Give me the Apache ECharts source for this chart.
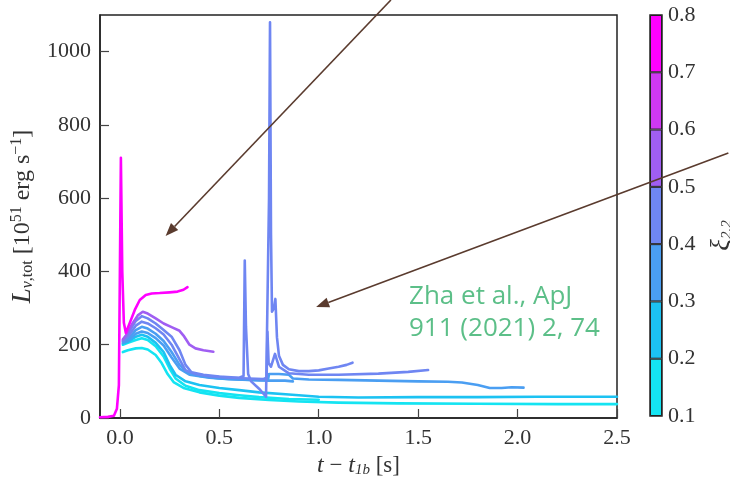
<!DOCTYPE html>
<html>
<head>
<meta charset="utf-8">
<script src="https://cdn.jsdelivr.net/npm/echarts@6.0.0/dist/echarts.min.js"></script>
<style>
html, body { margin: 0; padding: 0; background: #fff; }
#chart { width: 730px; height: 482px; }
</style>
</head>
<body>
<div id="chart"></div>
<script>
// luminosity curves, [t - t1b (s), L (1e51 erg/s)]
const lineA = [[-0.1, 2], [-0.06, 3], [-0.03, 6], [-0.015, 25], [-0.005, 90], [0.0, 400], [0.005, 710], [0.012, 400], [0.02, 260], [0.03, 232], [0.05, 260], [0.075, 295], [0.1, 322], [0.13, 336], [0.16, 340], [0.2, 341], [0.25, 343], [0.29, 345], [0.32, 350], [0.34, 357]]
const lineB = [[0.015, 215], [0.03, 225], [0.06, 255], [0.09, 280], [0.115, 290], [0.14, 285], [0.18, 272], [0.22, 258], [0.26, 248], [0.3, 238], [0.32, 225], [0.35, 200], [0.38, 190], [0.42, 185], [0.47, 181]]
const lineC = [[0.015, 212], [0.04, 230], [0.08, 265], [0.11, 278], [0.14, 272], [0.18, 258], [0.22, 240], [0.26, 222], [0.3, 185], [0.33, 145], [0.36, 125], [0.42, 118], [0.5, 113], [0.6, 110], [0.622, 115], [0.628, 430], [0.634, 250], [0.645, 120], [0.66, 100], [0.7, 80], [0.735, 58], [0.745, 60], [0.75, 600], [0.755, 1080], [0.76, 500], [0.765, 290], [0.775, 300], [0.782, 325], [0.79, 220], [0.8, 170], [0.82, 145], [0.85, 133], [0.9, 128], [0.95, 128], [1.0, 130], [1.05, 135], [1.1, 140], [1.14, 145], [1.17, 151]]
const lineD = [[0.015, 210], [0.04, 222], [0.08, 252], [0.11, 263], [0.14, 258], [0.18, 245], [0.22, 228], [0.26, 200], [0.3, 160], [0.33, 130], [0.38, 120], [0.45, 114], [0.55, 110], [0.65, 108], [0.72, 106], [0.738, 110], [0.742, 235], [0.748, 150], [0.76, 140], [0.78, 175], [0.8, 140], [0.85, 122], [0.95, 118], [1.1, 118], [1.3, 121], [1.45, 126], [1.55, 131]]
const lineE = [[0.015, 208], [0.04, 215], [0.08, 240], [0.11, 249], [0.14, 244], [0.18, 230], [0.22, 210], [0.26, 180], [0.3, 145], [0.34, 125], [0.4, 115], [0.5, 108], [0.6, 105], [0.7, 103], [0.745, 104], [0.75, 120], [0.8, 120], [0.85, 118], [0.87, 108], [0.95, 105], [1.1, 104], [1.3, 102], [1.5, 100], [1.65, 99], [1.72, 97], [1.8, 90], [1.86, 82], [1.92, 82], [1.97, 84], [2.03, 83]]
const lineF = [[0.015, 205], [0.04, 210], [0.08, 230], [0.11, 236], [0.14, 232], [0.18, 218], [0.22, 198], [0.26, 165], [0.3, 135], [0.35, 118], [0.45, 110], [0.55, 106], [0.65, 104], [0.75, 102], [0.83, 102], [0.87, 100]]
const lineG = [[0.015, 203], [0.04, 208], [0.08, 222], [0.11, 227], [0.14, 222], [0.18, 205], [0.22, 180], [0.25, 145], [0.28, 118], [0.33, 100], [0.4, 90], [0.5, 82], [0.6, 76], [0.7, 70], [0.85, 64], [1.0, 58], [1.2, 56], [1.5, 57], [1.8, 57], [2.1, 58], [2.5, 58]]
const lineH = [[0.015, 200], [0.04, 205], [0.08, 213], [0.11, 218], [0.14, 213], [0.18, 196], [0.22, 168], [0.25, 135], [0.28, 108], [0.33, 88], [0.4, 76], [0.5, 68], [0.6, 62], [0.7, 57], [0.85, 52], [1.0, 50]]
const lineI = [[0.015, 180], [0.04, 185], [0.08, 190], [0.11, 191], [0.14, 187], [0.18, 172], [0.21, 150], [0.24, 120], [0.27, 98], [0.32, 82], [0.4, 70], [0.5, 61], [0.6, 55], [0.75, 49], [0.9, 45], [1.1, 42], [1.4, 40], [1.8, 39], [2.2, 38], [2.5, 38]]

const curves = [lineI, lineH, lineG, lineF, lineE, lineD, lineC, lineB, lineA]
const curveXi = [0.12, 0.18, 0.25, 0.32, 0.35, 0.42, 0.45, 0.55, 0.75]

// discrete colour bar
const xiBins = ['0.1-0.2', '0.2-0.3', '0.3-0.4', '0.4-0.5', '0.5-0.6', '0.6-0.7', '0.7-0.8']
const binColors = ['#14e4f2', '#1cc2f2', '#4a9ef2', '#6f86f2', '#a05ef2', '#cf38f2', '#ff00ff']

const xTicks = [0, 0.5, 1.0, 1.5, 2.0, 2.5]

// annotation arrows (data coordinates), tail -> head
const arrowFrom = [[1.363, 1141], [3.06, 723]]
const arrowTo = [[0.23, 497], [0.987, 303]]

const serif = "'Liberation Serif', 'DejaVu Serif', serif"
const ink = '#222'
const brown = '#5a3b2e'

const chartDom = document.getElementById('chart')
const myChart = echarts.init(chartDom, null, { renderer: 'canvas' })

const colorOf = (xi) => binColors[Math.min(6, Math.floor((xi - 0.1) / 0.1 + 1e-9))]

const lineSeries = curves.map((data, i) => ({
	type: 'line',
	xAxisIndex: 0,
	yAxisIndex: 0,
	data,
	showSymbol: false,
	symbol: 'none',
	clip: true,
	z: 2 + i,
	lineStyle: { width: 2.6, color: colorOf(curveXi[i]), join: 'round', cap: 'round' },
	emphasis: { disabled: true },
}))

const option = {
	animation: false,
	backgroundColor: '#fff',
	textStyle: { fontFamily: serif },
	grid: [
		{ left: 100, right: 113, top: 15, bottom: 64, outerBoundsMode: 'none', containLabel: false, show: true, borderColor: ink, borderWidth: 1.5, backgroundColor: 'transparent' },
		{ left: 650, width: 12, top: 15, height: 401, outerBoundsMode: 'none', containLabel: false, show: true, borderColor: ink, borderWidth: 1.5, backgroundColor: 'transparent' },
	],
	xAxis: [
		{
			type: 'value',
			gridIndex: 0,
			min: -0.1,
			max: 2.5,
			splitLine: { show: false },
			axisLine: { show: true, onZero: false, lineStyle: { color: ink, width: 1.5 } },
			axisTick: { show: true, inside: true, length: 9, customValues: xTicks, lineStyle: { color: '#444', width: 1.2 } },
			axisLabel: {
				customValues: xTicks,
				formatter: (v) => '{n|' + Number(v).toFixed(1) + '}',
				margin: 9,
				rich: { n: { fontFamily: serif, fontSize: 22, color: '#333' } },
			},
			name: '{it|t} − {it|t}{sub|1b} [s]',
			nameLocation: 'middle',
			nameGap: 35,
			nameTextStyle: {
				fontFamily: serif, fontSize: 23, color: '#333',
				rich: {
					it: { fontFamily: serif, fontStyle: 'italic', fontSize: 24, color: '#333' },
					sub: { fontFamily: serif, fontStyle: 'italic', fontSize: 15, color: '#333', verticalAlign: 'bottom', padding: [8, 0, 0, 0] },
				},
			},
		},
		{ type: 'value', gridIndex: 1, min: 0, max: 1, show: false },
	],
	yAxis: [
		{
			type: 'value',
			gridIndex: 0,
			min: 0,
			max: 1100,
			interval: 200,
			splitLine: { show: false },
			axisLine: { show: true, onZero: false, lineStyle: { color: ink, width: 1.5 } },
			axisTick: { show: true, inside: true, length: 9, lineStyle: { color: '#444', width: 1.2 } },
			axisLabel: {
				showMaxLabel: false,
				formatter: (v) => '{n|' + v + '}',
				margin: 9,
				rich: { n: { fontFamily: serif, fontSize: 22, color: '#333' } },
			},
			name: '{it|L}{sub|ν}{subr|,tot} [10{sup|51} erg s{sup|−1}]',
			nameLocation: 'middle',
			nameRotate: 90,
			nameGap: 60,
			nameTextStyle: {
				fontFamily: serif, fontSize: 24, color: '#333',
				rich: {
					it: { fontFamily: serif, fontStyle: 'italic', fontSize: 27, color: '#333' },
					sub: { fontFamily: serif, fontStyle: 'italic', fontSize: 16, color: '#333', verticalAlign: 'bottom', padding: [9, 0, 0, 0] },
					subr: { fontFamily: serif, fontSize: 16, color: '#333', verticalAlign: 'bottom', padding: [9, 0, 0, 0] },
					sup: { fontFamily: serif, fontSize: 16, color: '#333', verticalAlign: 'top', padding: [0, 0, 9, 0] },
				},
			},
		},
		{ type: 'category', gridIndex: 1, data: xiBins, show: false, boundaryGap: true },
		{
			type: 'value',
			gridIndex: 1,
			position: 'right',
			min: 0.1,
			max: 0.8,
			interval: 0.1,
			splitLine: { show: false },
			axisLine: { show: false },
			axisTick: { show: false },
			axisLabel: {
				formatter: (v) => '{n|' + Number(v).toFixed(1) + '}',
				margin: 6,
				rich: { n: { fontFamily: serif, fontSize: 22, color: '#333' } },
			},
			name: '{it|ξ}{sub|2.2}',
			nameLocation: 'middle',
			nameRotate: 90,
			nameGap: 46,
			nameTextStyle: {
				fontFamily: serif, fontSize: 22, color: '#333', padding: [0, 40, 0, 0],
				rich: {
					it: { fontFamily: serif, fontStyle: 'italic', fontSize: 27, color: '#333' },
					sub: { fontFamily: serif, fontStyle: 'italic', fontSize: 15, color: '#333', verticalAlign: 'bottom', padding: [9, 0, 0, 0] },
				},
			},
		},
	],
	series: [
		...lineSeries,
		{
			type: 'bar',
			xAxisIndex: 1,
			yAxisIndex: 1,
			barWidth: '100%',
			silent: true,
			data: xiBins.map((b, i) => ({ value: 1, itemStyle: { color: binColors[i] } })),
			itemStyle: { borderColor: ink, borderWidth: 1 },
		},
	],
}

myChart.setOption(option)

// arrows and citation drawn on top, arrows placed through the grid's own scales
const arrowGraphics = arrowFrom.map((from, i) => {
	const p0 = myChart.convertToPixel({ gridIndex: 0 }, from)
	const p1 = myChart.convertToPixel({ gridIndex: 0 }, arrowTo[i])
	const ang = Math.atan2(p1[1] - p0[1], p1[0] - p0[0])
	const hl = 13
	const hw = 5
	const bx = p1[0] - hl * Math.cos(ang)
	const by = p1[1] - hl * Math.sin(ang)
	const nx = -Math.sin(ang) * hw
	const ny = Math.cos(ang) * hw
	return {
		type: 'group',
		z: 100,
		children: [
			{ type: 'line', z: 100, shape: { x1: p0[0], y1: p0[1], x2: bx, y2: by }, style: { stroke: brown, lineWidth: 1.6 } },
			{ type: 'polygon', z: 100, shape: { points: [[p1[0], p1[1]], [bx + nx, by + ny], [bx - nx, by - ny]] }, style: { fill: brown } },
		],
	}
})

myChart.setOption({
	graphic: [
		...arrowGraphics,
		{
			type: 'text',
			z: 100,
			left: 409,
			top: 281,
			style: {
				text: 'Zha et al., ApJ\n911 (2021) 2, 74',
				fontFamily: 'Open Sans',
				fontSize: 26,
				lineHeight: 32,
				fill: '#5cbf88',
			},
		},
	],
})
</script>
</body>
</html>
